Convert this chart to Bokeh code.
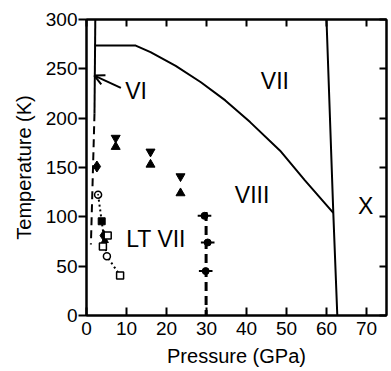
from bokeh.plotting import figure
from bokeh.models import LinearAxis, Arrow, OpenHead, Range1d, FixedTicker
from bokeh.core.properties import value
from bokeh.embed import file_html
from bokeh.resources import INLINE

FONT = "Liberation Sans"

# ---- data ----
x_ticks = [0, 10, 20, 30, 40, 50, 60, 70]
y_ticks = [0, 50, 100, 150, 200, 250, 300]

# VI / VII boundary (solid upper part, dashed lower part)
vi_solid_p = [2.2, 2.0]
vi_solid_t = [300, 205]
vi_dash_p = [2.0, 1.1]
vi_dash_t = [205, 72]

# VII / VIII boundary
vii_viii_p = [2.2, 12.3, 16.0, 22.3, 28.6, 34.7, 40.9, 48.4, 54.6, 61.7]
vii_viii_t = [273.6, 273.6, 267, 253, 236.4, 218, 196, 167, 137, 104]

# VII / X boundary
vii_x_p = [60.0, 61.7, 62.7]
vii_x_t = [300, 104, 0]

# VIII / LT VII boundary (dashed)
lt_p = [29.9, 29.9]
lt_t = [105, 0]

# down / up triangles
tri_down_p = [7.3, 16.0, 23.5]
tri_down_t = [180, 166, 141]
tri_up_p = [7.3, 16.0, 23.5]
tri_up_t = [171, 153, 124]

# diamonds
dia_p = [2.6, 4.3]
dia_t = [151, 81]

# points with error bars near 30 GPa
eb_p = [29.5, 30.3, 29.8]
eb_t = [101, 74, 45]
eb_err = [1.7, 1.7, 1.7]

# low temperature cluster
dotted_p = [2.9, 3.8, 4.4, 5.1, 8.4]
dotted_t = [122.5, 95.5, 78, 60, 40.5]
circdot_p = [2.9]
circdot_t = [122.5]
fsq_p = [3.8]
fsq_t = [95.5]
ftri_p = [4.6]
ftri_t = [76]
osq_p = [5.3, 4.1, 8.4]
osq_t = [81, 70, 40.5]
ocirc_p = [5.1]
ocirc_t = [60]

labels_text = ["VII", "VIII", "X", "LT VII", "VI"]
labels_p = [47.1, 41.4, 69.8, 17.4, 12.4]
labels_t = [238, 122, 110.6, 77.7, 228]

arrow_from = (8.6, 230.7)
arrow_to = (1.95, 243.2)

# ---- figure ----
p = figure(frame_width=300, frame_height=296,
           x_range=Range1d(0, 75), y_range=Range1d(0, 300),
           output_backend="svg", toolbar_location=None,
           min_border_left=86, min_border_top=19, min_border_right=5, min_border_bottom=50,
           x_axis_label="Pressure (GPa)", y_axis_label="Temperature (K)")
p.xgrid.visible = False
p.ygrid.visible = False
p.outline_line_color = "black"
p.outline_line_width = 2
p.background_fill_color = "white"
p.border_fill_color = "white"

xax = p.xaxis[0]
xax.ticker = FixedTicker(ticks=x_ticks)
xax.major_tick_in = 8
xax.major_tick_out = 0
xax.minor_tick_line_color = None
xax.major_label_standoff = 6
xax.axis_label_standoff = 7
yax = p.yaxis[0]
yax.ticker = FixedTicker(ticks=y_ticks)
yax.major_tick_in = 0
yax.major_tick_out = 8
yax.minor_tick_line_color = None
yax.major_label_standoff = 1
yax.axis_label_standoff = 8

for ax in (xax, yax):
    ax.axis_line_width = 2
    ax.major_tick_line_width = 2
    ax.major_label_text_font = FONT
    ax.major_label_text_font_size = "19px"
    ax.major_label_text_color = "black"
    ax.axis_label_text_font = FONT
    ax.axis_label_text_font_size = "20px"
    ax.axis_label_text_font_style = "normal"
    ax.axis_label_text_color = "black"

top = LinearAxis(ticker=FixedTicker(ticks=x_ticks),
                 major_label_overrides={t: "" for t in x_ticks})
right = LinearAxis(ticker=FixedTicker(ticks=y_ticks),
                   major_label_overrides={t: "" for t in y_ticks})
for ax in (top, right):
    ax.major_tick_in = 7
    ax.major_tick_out = 0
    ax.minor_tick_line_color = None
    ax.major_label_standoff = 0
    ax.axis_line_width = 2
    ax.major_tick_line_width = 2
p.add_layout(top, "above")
p.add_layout(right, "right")

# phase boundaries
p.line(vi_solid_p, vi_solid_t, line_color="black", line_width=2)
p.line(vi_dash_p, vi_dash_t, line_color="black", line_width=2, line_dash="8 5")
p.line(vii_viii_p, vii_viii_t, line_color="black", line_width=2)
p.line(vii_x_p, vii_x_t, line_color="black", line_width=2)
p.line(lt_p, lt_t, line_color="black", line_width=3, line_dash="9 5")
p.line(dotted_p, dotted_t, line_color="black", line_width=2, line_dash="2 3")

# markers
p.scatter(tri_down_p, tri_down_t, marker="inverted_triangle", size=9, color="black")
p.scatter(tri_up_p, tri_up_t, marker="triangle", size=9, color="black")
p.scatter(dia_p, dia_t, marker="diamond", size=11, color="black")

eb_lo = [a - e for a, e in zip(eb_p, eb_err)]
eb_hi = [a + e for a, e in zip(eb_p, eb_err)]
p.segment(x0=eb_lo, y0=eb_t, x1=eb_hi, y1=eb_t, line_color="black", line_width=2)
p.scatter(eb_p, eb_t, marker="circle", size=7, color="black")

p.scatter(circdot_p, circdot_t, marker="circle_dot", size=7, line_color="black",
          fill_color="white", line_width=1.5)
p.scatter(fsq_p, fsq_t, marker="square", size=7, color="black")
p.scatter(ftri_p, ftri_t, marker="triangle", size=7, color="black")
p.scatter(osq_p, osq_t, marker="square", size=7, line_color="black",
          fill_color="white", line_width=1.5)
p.scatter(ocirc_p, ocirc_t, marker="circle", size=7, line_color="black",
          fill_color="white", line_width=1.5)

# labels
p.text(x=labels_p, y=labels_t, text=labels_text, text_align="center",
       text_baseline="middle", text_font=value(FONT), text_font_size="23px",
       text_color="black")

p.add_layout(Arrow(x_start=arrow_from[0], y_start=arrow_from[1],
                   x_end=arrow_to[0], y_end=arrow_to[1],
                   line_width=2, line_color="black",
                   end=OpenHead(size=10, line_width=2, line_color="black")))

open("out.html", "w").write(file_html(p, INLINE))
